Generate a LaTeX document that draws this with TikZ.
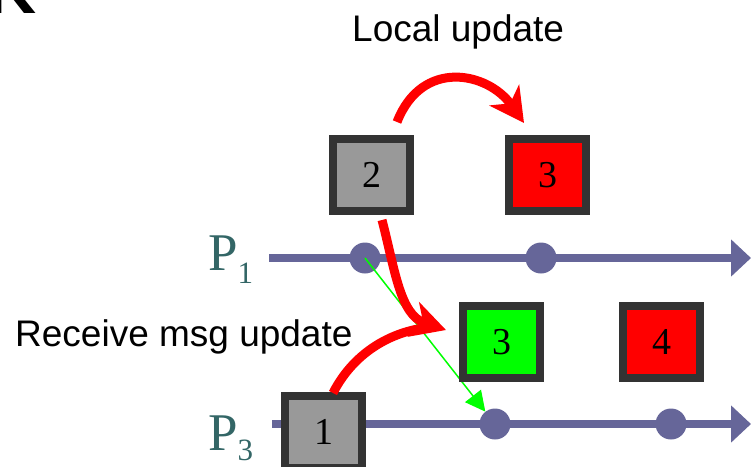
\documentclass[tikz,border=0pt]{standalone}
\usepackage{fontspec}
\setmainfont{Liberation Serif}
\newfontfamily\arialf{Liberation Sans}
\usetikzlibrary{arrows.meta}
\definecolor{axiscol}{RGB}{102,102,153}
\definecolor{boxborder}{RGB}{51,51,51}
\definecolor{boxgray}{RGB}{153,153,153}
\definecolor{labteal}{RGB}{51,102,102}
\tikzset{
  pbox/.style={draw=boxborder, line width=8pt, minimum width=77pt, minimum height=72pt,
    inner sep=0pt, font=\fontsize{38}{38}\selectfont},
  evdot/.style={circle, fill=axiscol, minimum size=31pt, inner sep=0pt},
  axisline/.style={draw=axiscol, line width=7.5pt, -{Triangle[length=20pt,width=36pt]}},
  redarrow/.style={draw=red, line width=9pt, -{Stealth[length=34pt,width=36pt,inset=10pt]}},
  redline/.style={draw=red, line width=9pt},
  msgarrow/.style={draw=green, line width=1.5pt, -{Triangle[length=20pt,width=20pt]}},
  plabel/.style={anchor=base west, inner sep=0pt, text=labteal},
  caption/.style={anchor=base west, inner sep=0pt, font=\arialf\fontsize{37}{37}\selectfont},
}
\begin{document}
\begin{tikzpicture}[x=1pt,y=-1pt]
\useasboundingbox (0,0) rectangle (751,466);
% partial title letter
\node[anchor=base west, inner sep=0pt, font=\arialf\bfseries\fontsize{68}{68}\selectfont] (klabel) at (-12.7,13) {K};
% process lines
\coordinate (p1s) at (269,258);
\coordinate (p1e) at (751,258);
\coordinate (p3s) at (272,424);
\coordinate (p3e) at (751,424);
\draw[axisline] (p1s) -- (p1e);
\draw[axisline] (p3s) -- (p3e);
\node[plabel] (p1label) at (208,270) {\fontsize{53}{53}\selectfont P\raisebox{-13pt}{\fontsize{31}{31}\selectfont 1}};
\node[plabel] (p3label) at (208,450) {\fontsize{53}{53}\selectfont P\raisebox{-10pt}{\fontsize{31}{31}\selectfont 3}};
% events
\node[evdot] (d11) at (365,258) {};
\node[evdot] (d12) at (541,258) {};
\node[evdot] (d31) at (495,424) {};
\node[evdot] (d32) at (671,424) {};
% message
\draw[msgarrow] (d11.center) -- (d31);
% clock boxes
\node[pbox, fill=boxgray] (b2) at (371.5,175) {2};
\node[pbox, fill=red] (b3a) at (547.5,175) {3};
\node[pbox, fill=green] (b3b) at (501.5,342) {3};
\node[pbox, fill=red] (b4) at (661.5,342) {4};
\node[pbox, fill=boxgray] (b1) at (323.5,432) {1};
% update arrows
\coordinate (lus) at (397,122);
\coordinate (lue) at (524,123);
\draw[redarrow] (lus) .. controls (422,58) and (488,72) .. (lue);
\coordinate (rs1) at (382,220);
\coordinate (rtip) at (446,330);
\draw[redarrow] (rs1) .. controls (395,270) and (400,315) .. (rtip);
\coordinate (rs2) at (333,393);
\coordinate (rjoin) at (432,327);
\draw[redline] (rs2) .. controls (355,350) and (395,330) .. (rjoin);
% captions
\node[caption] (loc) at (352,41) {Local update};
\node[caption] (rcv) at (15,346) {Receive msg update};
\end{tikzpicture}
\end{document}
